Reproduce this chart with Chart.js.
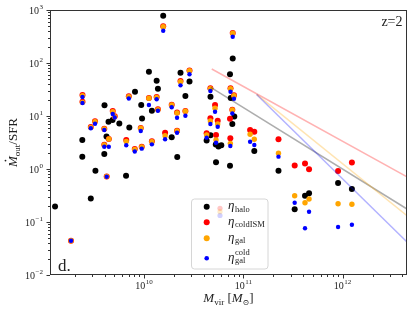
<!DOCTYPE html>
<html>
<head>
<meta charset="utf-8">
<script src="https://cdn.jsdelivr.net/npm/chart.js@4"></script>
<style>
html, body { margin: 0; padding: 0; background: #fff; }
#wrap { width: 416px; height: 314px; }
</style>
</head>
<body>
<div id="wrap"><canvas id="chart" width="416" height="314"></canvas></div>
<script>
// ---------------- DATA (z=2 panel) ----------------
// halo outflow loading, black points
const haloMass = [1.27e9, 2.39e9, 2.39e9, 2.91e9, 3.24e9, 3.98e9, 4.0e9, 4.19e9, 4.39e9, 4.82e9,
    5.64e9, 6.59e9, 7.11e9, 8.11e9, 9.37e9, 9.55e9, 1.12e10, 1.20e10, 1.34e10, 1.38e10,
    1.56e10, 1.90e10, 2.16e10, 2.33e10, 2.61e10, 2.87e10, 4.27e10, 4.67e10, 4.67e10, 5.28e10,
    5.62e10, 6.0e10, 5.31e10, 7.34e10, 7.34e10, 7.47e10, 7.82e10, 7.75e10, 8.11e10, 1.29e11,
    2.26e11, 3.29e11, 4.18e11, 4.59e11, 9.0e11, 1.24e12];
const etaHalo = [0.196, 1.71, 3.53, 0.277, 0.93, 1.92, 16.0, 4.1, 7.8, 8.4,
    7.2, 0.745, 6.1, 28.7, 16.1, 9.0, 68.5, 12.5, 46.2, 32.6,
    780, 3.98, 1.68, 65.6, 23.9, 44.8, 3.45, 23.1, 4.32, 2.90,
    2.66, 2.80, 1.34, 1.15, 61.5, 21.9, 122, 7.1, 9.8, 2.19,
    0.925, 0.174, 0.313, 0.348, 0.545, 0.42];

// galaxy-scale loadings (red / orange / blue share the masses)
const galMass = [1.84e9, 2.40e9, 2.40e9, 2.91e9, 3.21e9, 3.98e9, 3.98e9, 4.21e9, 4.42e9, 4.84e9,
    5.07e9, 6.62e9, 7.03e9, 8.07e9, 9.27e9, 9.48e9, 1.12e10, 1.20e10, 1.34e10, 1.38e10,
    1.56e10, 1.63e10, 1.90e10, 2.15e10, 2.15e10, 2.33e10, 2.61e10, 2.87e10, 4.27e10, 4.66e10,
    4.66e10, 5.19e10, 5.31e10, 5.52e10, 7.43e10, 7.40e10, 7.75e10, 8.05e10, 7.82e10, 1.17e11,
    1.29e11, 2.26e11, 3.29e11, 4.18e11, 4.59e11, 9.0e11, 1.24e12];
const coldIsmMass = galMass.concat([7.34e10]);
const etaColdISM = [0.0444, 24.9, 18.6, 6.2, 7.94, 5.76, 2.87, 0.72, 3.68, 12.4,
    9.87, 3.53, 23.5, 2.38, 5.94, 2.63, 21.9, 3.33, 22.8, 13.4,
    492, 4.84, 16.3, 11.6, 5.28, 45.7, 12.4, 72.2, 4.72, 33.3,
    9.05, 16.1, 4.38, 8.15, 33.3, 3.80, 13.1, 24.6, 368, 5.45,
    5.06, 3.63, 1.17, 1.27, 0.986, 0.916, 1.33, 8.9];
const etaGal = [0.0444, 24.2, 18.1, 6.1, 7.8, 5.69, 2.84, 0.72, 3.68, 12.0,
    9.7, 3.30, 23.1, 2.35, 5.87, 2.60, 21.6, 3.27, 22.5, 13.1,
    484, 4.25, 16.1, 11.4, 5.21, 44.4, 12.3, 71.6, 4.38, 32.7,
    8.05, 14.0, 3.53, 7.06, 32.7, 3.05, 13.0, 24.2, 363, 4.52,
    3.63, 1.98, 0.313, 0.231, 0.272, 0.221, 0.216];
const etaGalCold = [0.0444, 22.8, 17.6, 5.87, 7.16, 5.45, 2.63, 0.716, 2.63, 10.9,
    9.37, 2.80, 21.4, 2.14, 5.21, 2.42, 16.1, 2.92, 20.7, 12.6,
    406, 3.63, 14.6, 9.29, 4.84, 37.9, 10.1, 61.2, 3.90, 29.6,
    7.06, 12.0, 3.13, 6.28, 28.7, 2.72, 11.2, 21.2, 313, 3.27,
    2.84, 1.71, 0.231, 0.076, 0.156, 0.0805, 0.089];

// reference relations (end points)
const fitHaloMass = [4.81e10, 4.45e12];
const fitHaloEta = [77.1, 0.71];
const fitGrayMass = [4.70e10, 4.45e12];
const fitGrayEta = [34.8, 0.176];
const fitGalMass = [1.36e11, 4.45e12];
const fitGalEta = [25.5, 0.131];
const fitColdMass = [1.36e11, 4.45e12];
const fitColdEta = [25.5, 0.042];

const xRange = [1.13e9, 4.45e12];
const yRange = [0.01, 1000];
const xMajor = [1e10, 1e11, 1e12];
const xMajorExp = ["10", "11", "12"];
const yMajor = [1e-2, 1e-1, 1, 10, 100, 1000];
const yMajorExp = ["\u22122", "\u22121", "0", "1", "2", "3"];

const SERIF = '"Liberation Serif", "DejaVu Serif", serif';

function zip(xs, ys) {
    return ys.map((y, i) => ({ x: xs[i], y: y }));
}

// ---------------- HELPERS ----------------
function drawParts(ctx, parts, cx, y) {
    let w = 0;
    parts.forEach(p => { ctx.font = p.font; p.w = ctx.measureText(p.t).width; w += p.w; });
    let x = cx - w / 2;
    ctx.textAlign = "left";
    ctx.textBaseline = "alphabetic";
    parts.forEach(p => {
        ctx.font = p.font;
        ctx.fillText(p.t, x, y + (p.dy || 0));
        p.x = x;
        x += p.w;
    });
    return parts;
}

function drawPow(ctx, exp, x, y, align) {
    ctx.font = "10px " + SERIF;
    const wb = ctx.measureText("10").width;
    ctx.font = "7px " + SERIF;
    const we = ctx.measureText(exp).width;
    const w = wb + we + 0.5;
    const x0 = align === "right" ? x - w : x - w / 2;
    ctx.textAlign = "left";
    ctx.textBaseline = "alphabetic";
    ctx.font = "10px " + SERIF;
    ctx.fillText("10", x0, y);
    ctx.font = "7px " + SERIF;
    ctx.fillText(exp, x0 + wb + 0.5, y - 4.5);
}

function logTicks(min, max) {
    const out = [];
    for (let d = Math.floor(Math.log10(min)); d <= Math.ceil(Math.log10(max)); d++) {
        for (let k = 1; k <= 9; k++) {
            const v = k * Math.pow(10, d);
            if (v >= min * 0.999 && v <= max * 1.001) out.push({ v: v, major: k === 1 });
        }
    }
    return out;
}

// ---------------- AXES / LEGEND / LABELS ----------------
const axesPlugin = {
    id: "axesPlugin",
    afterDraw(chart) {
        const ctx = chart.ctx;
        const a = chart.chartArea;
        const xs = chart.scales.x, ys = chart.scales.y;
        ctx.save();

        // frame
        ctx.strokeStyle = "#333";
        ctx.lineWidth = 1;
        ctx.strokeRect(a.left + 0.5, a.top + 0.5, a.right - a.left - 1, a.bottom - a.top - 1);

        // ticks
        ctx.beginPath();
        logTicks(xRange[0], xRange[1]).forEach(t => {
            const px = Math.round(xs.getPixelForValue(t.v)) + 0.5;
            ctx.moveTo(px, a.bottom);
            ctx.lineTo(px, a.bottom + (t.major ? 3.5 : 2));
        });
        logTicks(yRange[0], yRange[1]).forEach(t => {
            const py = Math.round(ys.getPixelForValue(t.v)) + 0.5;
            ctx.moveTo(a.left, py);
            ctx.lineTo(a.left - (t.major ? 3.5 : 2), py);
        });
        ctx.stroke();

        // tick labels
        ctx.fillStyle = "#222";
        xMajor.forEach((v, i) => drawPow(ctx, xMajorExp[i], xs.getPixelForValue(v), a.bottom + 13.5, "center"));
        yMajor.forEach((v, i) => drawPow(ctx, yMajorExp[i], a.left - 7, ys.getPixelForValue(v) + 3.5, "right"));

        // x title
        const cx = (a.left + a.right) / 2;
        drawParts(ctx, [
            { t: "M", font: "italic 13px " + SERIF },
            { t: "vir", font: "9px " + SERIF, dy: 2.5 },
            { t: " [", font: "13px " + SERIF },
            { t: "M", font: "italic 13px " + SERIF },
            { t: "\u2299", font: "8px " + SERIF, dy: 2.5 },
            { t: "]", font: "13px " + SERIF }
        ], cx, 302);

        // y title (rotated)
        ctx.save();
        ctx.translate(17, (a.top + a.bottom) / 2);
        ctx.rotate(-Math.PI / 2);
        const yp = drawParts(ctx, [
            { t: "M", font: "italic 13px " + SERIF },
            { t: "out", font: "9px " + SERIF, dy: 2.5 },
            { t: "/SFR", font: "13px " + SERIF }
        ], 0, 0);
        ctx.beginPath();
        ctx.arc(yp[0].x + yp[0].w * 0.6, -11.5, 0.9, 0, Math.PI * 2);
        ctx.fill();
        ctx.restore();

        // annotations
        ctx.font = "14px " + SERIF;
        ctx.textAlign = "right";
        ctx.fillText("z=2", a.right - 4.5, 26);
        ctx.font = "17px " + SERIF;
        ctx.textAlign = "left";
        ctx.fillText("d.", a.left + 8, a.bottom - 4.5);

        // legend
        const L = { x: 191, y: 198.5, w: 76.5, h: 70 };
        ctx.beginPath();
        ctx.roundRect(L.x + 0.5, L.y + 0.5, L.w, L.h, 3);
        ctx.fillStyle = "rgba(255,255,255,0.85)";
        ctx.fill();
        ctx.strokeStyle = "#d6d6d6";
        ctx.stroke();

        // faint handles of the relation legend peeking through
        [["rgba(255,0,0,0.22)", 208.3], ["rgba(255,165,0,0.22)", 211.7], ["rgba(0,0,255,0.18)", 215.5]].forEach(f => {
            ctx.beginPath();
            ctx.arc(220, f[1], 2.6, 0, Math.PI * 2);
            ctx.fillStyle = f[0];
            ctx.fill();
        });

        const rows = [
            { c: "#000", r: 3, y: 206.7, sub: "halo" },
            { c: "#ff0000", r: 3, y: 222.3, sub: "coldISM" },
            { c: "#ffa500", r: 3, y: 238.3, sub: "gal" },
            { c: "#0000ff", r: 2.3, y: 258.3, sub: "gal", sup: "cold" }
        ];
        rows.forEach(r => {
            ctx.beginPath();
            ctx.arc(206.7, r.y, r.r, 0, Math.PI * 2);
            ctx.fillStyle = r.c;
            ctx.fill();
            ctx.fillStyle = "#222";
            ctx.textAlign = "left";
            ctx.font = "italic 13px " + SERIF;
            ctx.fillText("\u03b7", 228, r.y + 2.5);
            ctx.font = "8.5px " + SERIF;
            ctx.fillText(r.sub, 235, r.y + 5);
            if (r.sup) ctx.fillText(r.sup, 235, r.y - 3.5);
        });

        ctx.restore();
    }
};

// ---------------- CHART ----------------
new Chart(document.getElementById("chart"), {
    type: "scatter",
    data: {
        datasets: [
            { label: "halo", data: zip(haloMass, etaHalo), pointBackgroundColor: "#000", backgroundColor: "#000",
              pointBorderWidth: 0, pointRadius: 3, order: 9 },
            { label: "coldISM", data: zip(coldIsmMass, etaColdISM), pointBackgroundColor: "#ff0000", backgroundColor: "#ff0000",
              pointBorderWidth: 0, pointRadius: 3, order: 8 },
            { label: "gal", data: zip(galMass, etaGal), pointBackgroundColor: "#ffa500", backgroundColor: "#ffa500",
              pointBorderWidth: 0, pointRadius: 2.7, order: 7 },
            { label: "gal cold", data: zip(galMass, etaGalCold), pointBackgroundColor: "#0000ff", backgroundColor: "#0000ff",
              pointBorderWidth: 0, pointRadius: 2.2, order: 6 },
            { type: "line", label: "fit halo", data: zip(fitHaloMass, fitHaloEta), borderColor: "rgba(255,0,0,0.3)",
              borderWidth: 1.5, pointRadius: 0, fill: false, order: 4 },
            { type: "line", label: "fit gray", data: zip(fitGrayMass, fitGrayEta), borderColor: "rgba(0,0,0,0.32)",
              borderWidth: 1.5, pointRadius: 0, fill: false, order: 3 },
            { type: "line", label: "fit gal", data: zip(fitGalMass, fitGalEta), borderColor: "rgba(255,165,0,0.3)",
              borderWidth: 1.5, pointRadius: 0, fill: false, order: 2 },
            { type: "line", label: "fit cold", data: zip(fitColdMass, fitColdEta), borderColor: "rgba(0,0,255,0.3)",
              borderWidth: 1.5, pointRadius: 0, fill: false, order: 1 }
        ]
    },
    options: {
        responsive: false,
        animation: false,
        devicePixelRatio: 1,
        layout: { padding: { top: 10, right: 9, left: 0, bottom: 0 } },
        plugins: { legend: { display: false }, tooltip: { enabled: false } },
        scales: {
            x: {
                type: "logarithmic", min: xRange[0], max: xRange[1],
                grid: { display: false }, border: { display: false }, ticks: { display: false },
                afterFit: s => { s.height = 39; }
            },
            y: {
                type: "logarithmic", min: yRange[0], max: yRange[1],
                grid: { display: false }, border: { display: false }, ticks: { display: false },
                afterFit: s => { s.width = 50; }
            }
        }
    },
    plugins: [axesPlugin]
});
</script>
</body>
</html>
